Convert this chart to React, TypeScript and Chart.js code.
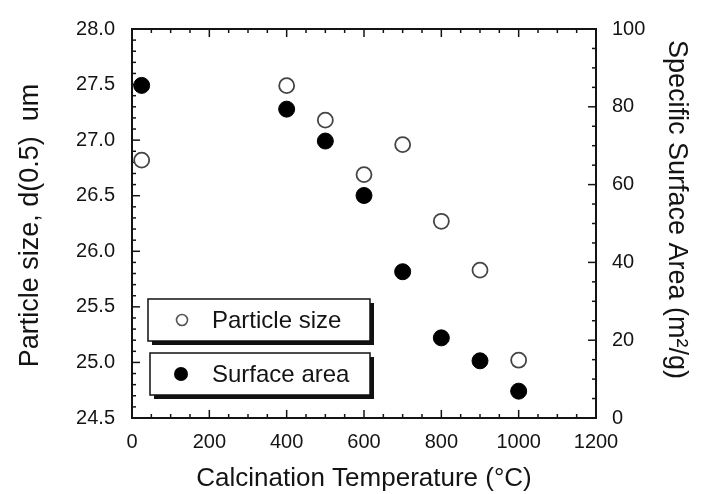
import React, { useEffect, useRef } from "react";
import { Chart, registerables } from "chart.js";

Chart.register(...registerables);

// ---- data ----
const temperatures = [25, 400, 500, 600, 700, 800, 900, 1000];
const particleSize = [26.82, 27.49, 27.18, 26.69, 26.96, 26.27, 25.83, 25.02];
const surfaceArea = [85.5, 79.4, 71.2, 57.2, 37.6, 20.6, 14.7, 6.9];
const legendLabels = ["Particle size", "Surface area"];
const xTitle = "Calcination Temperature (\u00B0C)";
const yTitle = "Particle size, d(0.5)  um";
const y2Title = "Specific Surface Area (m\u00B2/g)";

const FONT = "'Liberation Sans', Arial, Helvetica, sans-serif";
const INK = "#141414";

const frameTicks = {
  id: "frameTicks",
  beforeDatasetsDraw(chart: any) {
    const { ctx, chartArea: a, scales } = chart;
    const x = scales.x, y = scales.y, y2 = scales.y2;
    const line = (x1: number, y1: number, x2: number, y2v: number) => {
      ctx.beginPath();
      ctx.moveTo(x1, y1);
      ctx.lineTo(x2, y2v);
      ctx.stroke();
    };
    ctx.save();
    ctx.strokeStyle = INK;
    ctx.lineWidth = 1.5;
    for (let i = 0; i <= 24; i++) {
      const v = i * 50;
      const px = x.getPixelForValue(v);
      const len = v % 200 === 0 ? 8 : 4;
      line(px, a.bottom, px, a.bottom - len);
      line(px, a.top, px, a.top + len);
    }
    for (let i = 0; i <= 35; i++) {
      const v = 24.5 + i * 0.1;
      const py = y.getPixelForValue(v);
      const len = i % 5 === 0 ? 8 : 4;
      line(a.left, py, a.left + len, py);
    }
    for (let i = 0; i <= 20; i++) {
      const v = i * 5;
      const py = y2.getPixelForValue(v);
      const len = i % 4 === 0 ? 8 : 4;
      line(a.right, py, a.right - len, py);
    }
    ctx.lineWidth = 2;
    ctx.strokeRect(a.left, a.top, a.right - a.left, a.bottom - a.top);
    ctx.restore();
  },
};

const axisTitles = {
  id: "axisTitles",
  afterDraw(chart: any) {
    const { ctx, chartArea: a } = chart;
    ctx.save();
    ctx.fillStyle = INK;
    ctx.textBaseline = "alphabetic";
    ctx.textAlign = "center";
    ctx.font = `26px ${FONT}`;
    ctx.fillText(xTitle, (a.left + a.right) / 2, 486);
    // left title, reading bottom to top
    ctx.save();
    ctx.translate(38, (a.top + a.bottom) / 2 + 2);
    ctx.rotate(-Math.PI / 2);
    ctx.font = `27px ${FONT}`;
    ctx.fillText(yTitle, 0, 0);
    ctx.restore();
    // right title, reading top to bottom
    ctx.save();
    ctx.translate(669, (a.top + a.bottom) / 2 - 14);
    ctx.rotate(Math.PI / 2);
    ctx.font = `27px ${FONT}`;
    ctx.fillText(y2Title, 0, 0);
    ctx.restore();
    ctx.restore();
  },
};

const boxLegend = {
  id: "boxLegend",
  afterDraw(chart: any) {
    const { ctx, chartArea: a } = chart;
    const items = [
      { label: legendLabels[0], top: a.top + 270, left: a.left + 16, filled: false },
      { label: legendLabels[1], top: a.top + 324, left: a.left + 18, filled: true },
    ];
    ctx.save();
    for (const it of items) {
      const w = 222 - (it.left - (a.left + 16));
      const h = 42;
      ctx.fillStyle = "#111";
      ctx.fillRect(it.left + 4, it.top + 4, w, h);
      ctx.fillStyle = "#fff";
      ctx.fillRect(it.left, it.top, w, h);
      ctx.strokeStyle = "#111";
      ctx.lineWidth = 1.5;
      ctx.strokeRect(it.left, it.top, w, h);
      const cy = it.top + h / 2;
      const mx = a.left + 49;
      ctx.beginPath();
      if (it.filled) {
        ctx.arc(mx, cy, 7, 0, Math.PI * 2);
        ctx.fillStyle = "#000";
        ctx.fill();
      } else {
        ctx.arc(mx + 1, cy, 5.5, 0, Math.PI * 2);
        ctx.strokeStyle = "#555";
        ctx.lineWidth = 1.6;
        ctx.stroke();
      }
      ctx.fillStyle = INK;
      ctx.font = `24px ${FONT}`;
      ctx.textAlign = "left";
      ctx.textBaseline = "middle";
      ctx.fillText(it.label, a.left + 80, cy + 1);
    }
    ctx.restore();
  },
};

export default function App() {
  const ref = useRef<HTMLCanvasElement | null>(null);

  useEffect(() => {
    document.body.style.margin = "0";
    const canvas = ref.current;
    if (!canvas) return;
    const tickFont = { family: FONT, size: 20 };
    const chart = new Chart(canvas, {
      type: "scatter",
      data: {
        datasets: [
          {
            label: legendLabels[0],
            data: temperatures.map((t, i) => ({ x: t, y: particleSize[i] })),
            yAxisID: "y",
            pointStyle: "circle",
            pointRadius: 7.5,
            backgroundColor: "#fff",
            borderColor: "#444",
            borderWidth: 1.8,
          },
          {
            label: legendLabels[1],
            data: temperatures.map((t, i) => ({ x: t, y: surfaceArea[i] })),
            yAxisID: "y2",
            pointStyle: "circle",
            pointRadius: 8,
            backgroundColor: "#000",
            borderColor: "#000",
            borderWidth: 1,
          },
        ],
      },
      options: {
        responsive: false,
        animation: false,
        events: [],
        layout: { padding: { top: 24, left: 0, right: 0, bottom: 0 } },
        plugins: { legend: { display: false }, tooltip: { enabled: false } },
        scales: {
          x: {
            type: "linear",
            min: 0,
            max: 1200,
            grid: { display: false, drawTicks: false },
            border: { display: false },
            ticks: { stepSize: 200, font: tickFont, color: INK, padding: 12, maxRotation: 0, callback: (v: any) => String(v) },
            afterFit: (s: any) => { s.height = 76; },
          },
          y: {
            type: "linear",
            position: "left",
            min: 24.5,
            max: 28,
            grid: { display: false, drawTicks: false },
            border: { display: false },
            ticks: { stepSize: 0.5, font: tickFont, color: INK, padding: 17, callback: (v: any) => Number(v).toFixed(1) },
            afterFit: (s: any) => { s.width = 132; },
          },
          y2: {
            type: "linear",
            position: "right",
            min: 0,
            max: 100,
            grid: { display: false, drawTicks: false },
            border: { display: false },
            ticks: { stepSize: 20, font: tickFont, color: INK, padding: 16, callback: (v: any) => String(v) },
            afterFit: (s: any) => { s.width = 106; },
          },
        },
      },
      plugins: [frameTicks, axisTitles, boxLegend],
    });
    return () => chart.destroy();
  }, []);

  return (
    <div style={{ position: "fixed", left: 0, top: 0, width: 702, height: 494, background: "#fff" }}>
      <canvas ref={ref} width={702} height={494} style={{ width: 702, height: 494, display: "block" }} />
    </div>
  );
}
